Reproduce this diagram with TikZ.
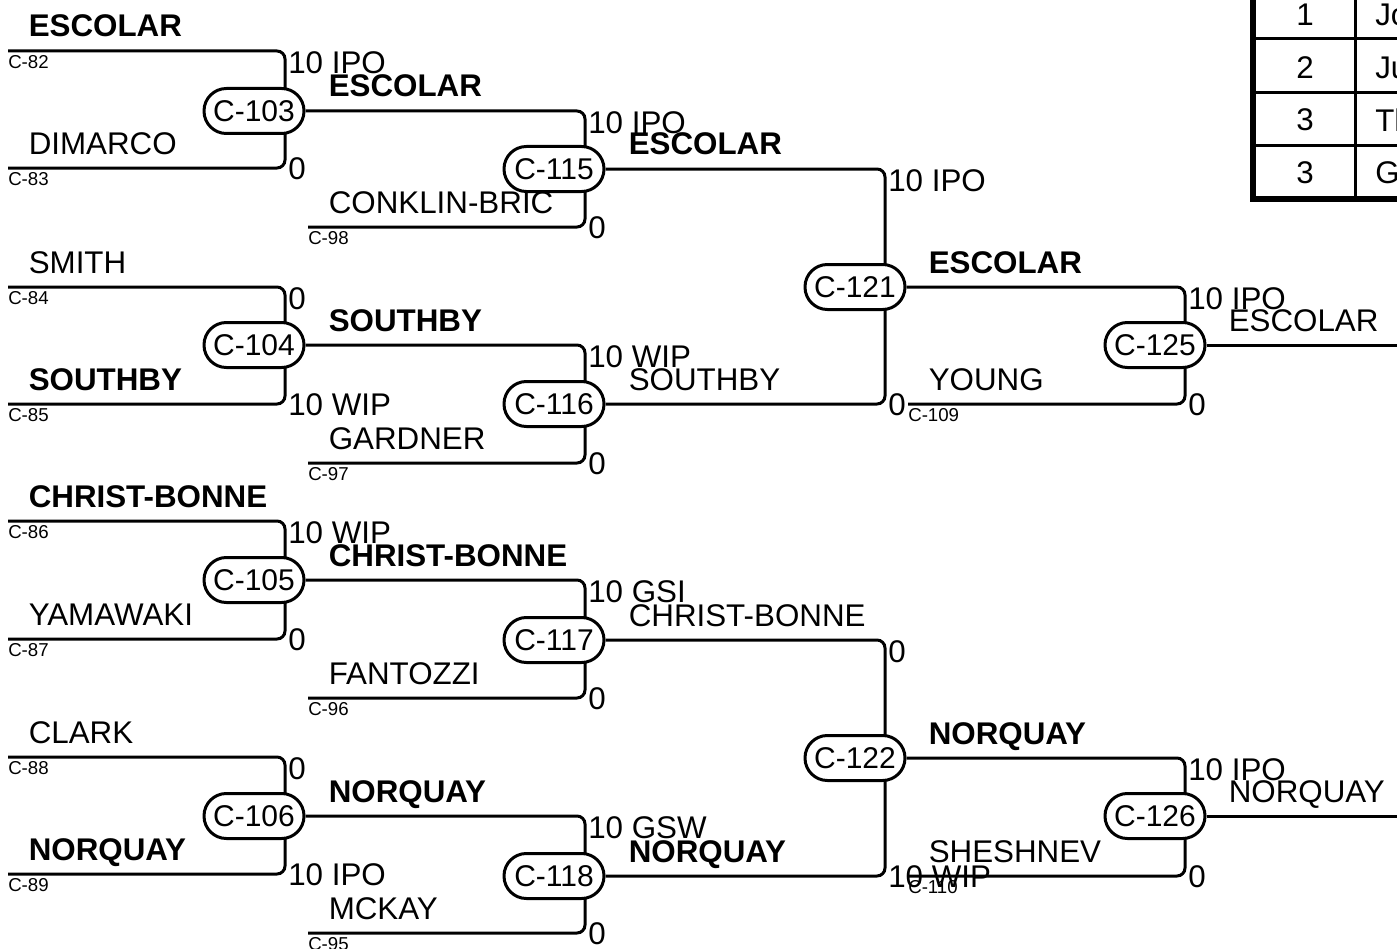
\documentclass[tikz,border=0pt]{standalone}
\usepackage{fontspec}
\setmainfont{Liberation Sans}
\newcommand\brfont{\fontsize{23.5}{27}\selectfont}
\newcommand\ovfont{\fontsize{22.5}{26}\selectfont}
\newcommand\idfont{\fontsize{14}{16}\selectfont}

\begin{document}
\begin{tikzpicture}[x=0.75pt, y=-0.75pt,
  bracket/.style={line width=2.25pt, rounded corners=6pt},
  match/.style={draw, line width=2.25pt, fill=white, rounded corners=16.8pt, minimum width=75pt, minimum height=33.75pt, inner sep=0pt, font=\ovfont},
  player/.style={anchor=base west, inner sep=0pt, font=\brfont},
  winner/.style={anchor=base west, inner sep=0pt, font=\brfont\bfseries},
  topscore/.style={anchor=north west, inner sep=0pt, font=\brfont},
  botscore/.style={anchor=west, inner sep=0pt, font=\brfont},
  tag/.style={anchor=north west, inner sep=0pt, font=\idfont}]
\useasboundingbox (0,0) rectangle (1397,949);
\clip (0,0) rectangle (1397,949);

% first round
\coordinate (c82) at (8,51);
\coordinate (c83) at (8,168);
\coordinate (c84) at (8,287);
\coordinate (c85) at (8,404);
\coordinate (c86) at (8,521);
\coordinate (c87) at (8,639);
\coordinate (c88) at (8,757);
\coordinate (c89) at (8,874);
\coordinate (v103) at (285,111);
\coordinate (v104) at (285,345);
\coordinate (v105) at (285,580);
\coordinate (v106) at (285,816);
\draw[bracket] (c82) -| (v103) |- (c83);
\draw[bracket] (c84) -| (v104) |- (c85);
\draw[bracket] (c86) -| (v105) |- (c87);
\draw[bracket] (c88) -| (v106) |- (c89);
\node[match] (m103) at (254,111) {C-103};
\node[match] (m104) at (254,345) {C-104};
\node[match] (m105) at (254,580) {C-105};
\node[match] (m106) at (254,816) {C-106};

\node[winner] (p82) at (28.5,37) {ESCOLAR};
\node[player] (p83) at (28.5,154) {DIMARCO};
\node[player] (p84) at (28.5,273) {SMITH};
\node[winner] (p85) at (28.5,390) {SOUTHBY};
\node[winner] (p86) at (28.5,507) {CHRIST-BONNE};
\node[player] (p87) at (28.5,625) {YAMAWAKI};
\node[player] (p88) at (28.5,743) {CLARK};
\node[winner] (p89) at (28.5,860) {NORQUAY};
\node[tag] (t82) at (8,55) {C-82};
\node[tag] (t83) at (8,172) {C-83};
\node[tag] (t84) at (8,291) {C-84};
\node[tag] (t85) at (8,408) {C-85};
\node[tag] (t86) at (8,525) {C-86};
\node[tag] (t87) at (8,643) {C-87};
\node[tag] (t88) at (8,761) {C-88};
\node[tag] (t89) at (8,878) {C-89};
\node[topscore] (s103a) at (288,51) {10 IPO};
\node[botscore] (s103b) at (288,169) {0};
\node[topscore] (s104a) at (288,287) {0};
\node[botscore] (s104b) at (288,405) {10 WIP};
\node[topscore] (s105a) at (288,521) {10 WIP};
\node[botscore] (s105b) at (288,640) {0};
\node[topscore] (s106a) at (288,757) {0};
\node[botscore] (s106b) at (288,875) {10 IPO};

% second round
\coordinate (c98) at (308,227);
\coordinate (c97) at (308,463);
\coordinate (c96) at (308,698);
\coordinate (c95) at (308,933);
\coordinate (v115) at (585,169);
\coordinate (v116) at (585,404);
\coordinate (v117) at (585,640);
\coordinate (v118) at (585,876);
\draw[bracket] (m103.east) -| (v115) |- (c98);
\draw[bracket] (m104.east) -| (v116) |- (c97);
\draw[bracket] (m105.east) -| (v117) |- (c96);
\draw[bracket] (m106.east) -| (v118) |- (c95);
\node[match] (m115) at (554,169) {C-115};
\node[match] (m116) at (554,404) {C-116};
\node[match] (m117) at (554,640) {C-117};
\node[match] (m118) at (554,876) {C-118};

\node[winner] (q103) at (328.5,97) {ESCOLAR};
\node[player] (p98) at (328.5,213) {CONKLIN-BRIC};
\node[winner] (q104) at (328.5,331) {SOUTHBY};
\node[player] (p97) at (328.5,449) {GARDNER};
\node[winner] (q105) at (328.5,566) {CHRIST-BONNE};
\node[player] (p96) at (328.5,684) {FANTOZZI};
\node[winner] (q106) at (328.5,802) {NORQUAY};
\node[player] (p95) at (328.5,919) {MCKAY};
\node[tag] (t98) at (308,231) {C-98};
\node[tag] (t97) at (308,467) {C-97};
\node[tag] (t96) at (308,702) {C-96};
\node[tag] (t95) at (308,937) {C-95};
\node[topscore] (s115a) at (588,111) {10 IPO};
\node[botscore] (s115b) at (588,228) {0};
\node[topscore] (s116a) at (588,345) {10 WIP};
\node[botscore] (s116b) at (588,464) {0};
\node[topscore] (s117a) at (588,580) {10 GSI};
\node[botscore] (s117b) at (588,699) {0};
\node[topscore] (s118a) at (588,816) {10 GSW};
\node[botscore] (s118b) at (588,934) {0};

% third round
\coordinate (v121) at (885,287);
\coordinate (v122) at (885,758);
\draw[bracket] (m115.east) -| (v121) |- (m116.east);
\draw[bracket] (m117.east) -| (v122) |- (m118.east);
\node[match] (m121) at (855,287) {C-121};
\node[match] (m122) at (855,758) {C-122};

\node[winner] (q115) at (628.5,155) {ESCOLAR};
\node[player] (q116) at (628.5,390) {SOUTHBY};
\node[player] (q117) at (628.5,626) {CHRIST-BONNE};
\node[winner] (q118) at (628.5,862) {NORQUAY};
\node[topscore] (s121a) at (888,169) {10 IPO};
\node[botscore] (s121b) at (888,405) {0};
\node[topscore] (s122a) at (888,640) {0};
\node[botscore] (s122b) at (888,877) {10 WIP};

% fourth round
\coordinate (c109) at (908,404);
\coordinate (c110) at (908,876);
\coordinate (v125) at (1185,345);
\coordinate (v126) at (1185,816);
\coordinate (e125) at (1400,345);
\coordinate (e126) at (1400,816);
\draw[bracket] (m121.east) -| (v125) |- (c109);
\draw[bracket] (m122.east) -| (v126) |- (c110);
\node[match] (m125) at (1155,345) {C-125};
\node[match] (m126) at (1155,816) {C-126};
\draw[bracket] (m125.east) -- (e125);
\draw[bracket] (m126.east) -- (e126);

\node[winner] (q121) at (928.5,273) {ESCOLAR};
\node[player] (p109) at (928.5,390) {YOUNG};
\node[winner] (q122) at (928.5,744) {NORQUAY};
\node[player] (p110) at (928.5,862) {SHESHNEV};
\node[tag] (t109) at (908,408) {C-109};
\node[tag] (t110) at (908,880) {C-110};
\node[topscore] (s125a) at (1188,287) {10 IPO};
\node[botscore] (s125b) at (1188,405) {0};
\node[topscore] (s126a) at (1188,758) {10 IPO};
\node[botscore] (s126b) at (1188,877) {0};
\node[player] (q125) at (1228.5,331) {ESCOLAR};
\node[player] (q126) at (1228.5,802) {NORQUAY};

% standings table
\draw[line width=2.25pt] (1355.5,-20) -- (1355.5,198);
\draw[line width=2.25pt] (1253,39) -- (1400,39);
\draw[line width=2.25pt] (1253,92.5) -- (1400,92.5);
\draw[line width=2.25pt] (1253,146) -- (1400,146);
\draw[line width=4.5pt] (1253,-20) rectangle (1405,198.5);
\node[font=\brfont, inner sep=0pt] (r1) at (1305,14.5) {1};
\node[font=\brfont, inner sep=0pt] (r2) at (1305,67.5) {2};
\node[font=\brfont, inner sep=0pt] (r3) at (1305,120) {3};
\node[font=\brfont, inner sep=0pt] (r4) at (1305,173) {3};
\node[botscore] (n1) at (1375,14.5) {Jo};
\node[botscore] (n2) at (1375,67.5) {Ju};
\node[botscore] (n3) at (1375,120) {Th};
\node[botscore] (n4) at (1375,173) {G};
\end{tikzpicture}
\end{document}
